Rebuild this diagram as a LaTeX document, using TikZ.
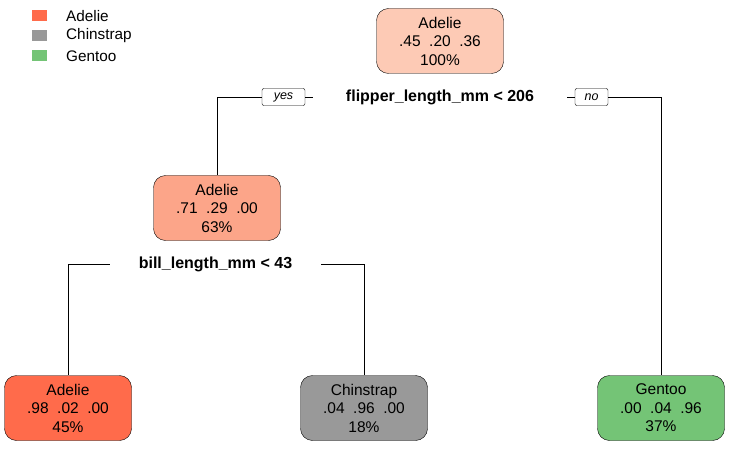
\documentclass[tikz,border=0pt]{standalone}
\usepackage{fontspec}
\setmainfont{Liberation Sans}
\usepackage{tikz}
\usepackage{xcolor}
\definecolor{adelie-col}{HTML}{FF6B4B}
\definecolor{chin-col}{HTML}{999999}
\definecolor{gentoo-col}{HTML}{74C476}
\definecolor{root-col}{HTML}{FDCAB5}
\definecolor{left-col}{HTML}{FCA589}
\tikzset{
    tree-box/.style = {draw=black, rectangle, rounded corners=12pt, minimum width=127pt, minimum height=65pt, align=center, font=\fontsize{15.5}{18.5}\selectfont, inner sep=2pt, text depth=-2pt},
    split-label/.style = {font=\bfseries\fontsize{16}{18}\selectfont, inner sep=0pt, minimum height=16pt},
    answer-box/.style = {draw=black, rectangle, rounded corners=2pt, font=\itshape\fontsize{12.5}{13}\selectfont, inner sep=0pt, minimum height=17pt},
    key-box/.style = {rectangle, minimum width=15pt, minimum height=11pt, inner sep=0pt},
    key-text/.style = {anchor=west, font=\fontsize{15.3}{17}\selectfont, inner sep=0pt},
}
\newcommand{\gapp}{\hspace{0.55em}}
\begin{document}
\begin{tikzpicture}[x=1pt, y=-1pt]
\useasboundingbox (0,0) rectangle (730,449);
% legend
\node[key-box, fill=adelie-col] (key1) at (39.5,16) {};
\node[key-box, fill=chin-col] (key2) at (39.5,36) {};
\node[key-box, fill=gentoo-col] (key3) at (39.5,56) {};
\node[key-text] (key1-text) at (66,16) {Adelie};
\node[key-text] (key2-text) at (66,36) {Chinstrap};
\node[key-text] (key3-text) at (66,56) {Gentoo};
% nodes
\node[tree-box, fill=root-col] (root) at (440,41) {Adelie\\.45\gapp.20\gapp.36\\100\%};
\node[tree-box, fill=left-col] (left) at (217,208) {Adelie\\.71\gapp.29\gapp.00\\63\%};
\node[tree-box, fill=adelie-col] (leaf-adelie) at (68,408) {Adelie\\.98\gapp.02\gapp.00\\45\%};
\node[tree-box, fill=chin-col] (leaf-chin) at (364,408) {Chinstrap\\.04\gapp.96\gapp.00\\18\%};
\node[tree-box, fill=gentoo-col] (leaf-gentoo) at (661,408) {Gentoo\\.00\gapp.04\gapp.96\\37\%};
% splits
\node[split-label, minimum width=254pt] (split1) at (440,97) {flipper\_length\_mm < 206};
\node[split-label, minimum width=211pt] (split2) at (215.5,264) {bill\_length\_mm < 43};
\node[answer-box, minimum width=43pt] (yes) at (283.5,97) {yes};
\node[answer-box, minimum width=33pt] (no) at (591.5,97) {no};
% edges
\draw (yes.west) -| (left.north);
\draw (yes.east) -- (split1.west);
\draw (split1.east) -- (no.west);
\draw (no.east) -| (leaf-gentoo.north);
\draw (split2.west) -| (leaf-adelie.north);
\draw (split2.east) -| (leaf-chin.north);
\end{tikzpicture}
\end{document}
